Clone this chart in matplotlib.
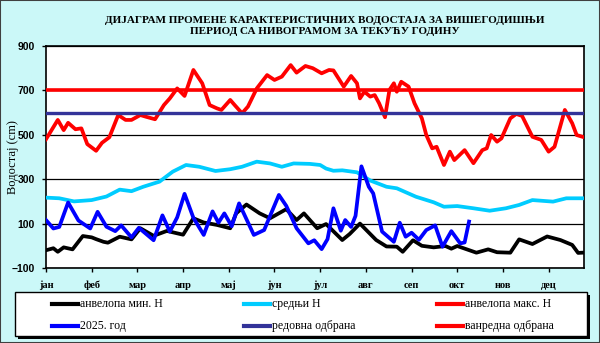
import numpy as np
import matplotlib
matplotlib.use("Agg")
import matplotlib.pyplot as plt
from matplotlib.patches import Rectangle
from matplotlib.lines import Line2D

# ------------------------------------------------------------
# Characteristic water levels (multi-year) with the current
# year's hydrograph. x = day of year (0 = 1 Jan), y = level in cm.
# ------------------------------------------------------------

MONTHS = ["јан", "феб", "мар", "апр", "мај", "јун",
          "јул", "авг", "сеп", "окт", "нов", "дец"]

MIN_DAYS = [0, 5, 8, 12, 18, 25, 31, 34, 39, 42, 50, 58, 64, 73, 82, 93,
            100, 107, 116, 125, 129, 136, 145, 152, 163, 170, 175, 184,
            190, 201, 206, 213, 224, 231, 238, 242, 249, 255, 263, 271,
            275, 279, 292, 300, 306, 315, 321, 330, 340, 349, 357, 361, 364]
MIN_H = [-20, -11, -27, -7, -16, 44, 38, 30, 18, 14, 41, 29, 79, 45, 67, 50,
         124, 105, 94, 79, 146, 186, 146, 124, 165, 116, 146, 79,
         98, 26, 53, 100, 26, -3, -4, -27, 25, 0, -7, -1,
         -13, -1, -31, -16, -29, -31, 29, 8, 42, 26, 4, -32, -31]

MEAN_DAYS = [0, 9, 19, 31, 41, 50, 58, 66, 77, 86, 95, 104, 115, 125, 133,
             143, 152, 160, 168, 179, 186, 190, 195, 201, 211, 220, 231,
             238, 251, 263, 270, 279, 290, 301, 312, 321, 330, 344, 353, 364]
MEAN_H = [217, 214, 200, 206, 222, 253, 246, 266, 289, 334, 364, 356, 337,
          345, 356, 379, 371, 356, 371, 369, 364, 348, 338, 340, 331, 294,
          266, 259, 221, 196, 176, 179, 169, 158, 169, 184, 206, 199, 214, 214]

MAX_DAYS = [0, 8, 12, 15, 20, 24, 28, 34, 38, 43, 49, 54, 58, 64, 68, 74,
            80, 84, 89, 94, 100, 106, 111, 116, 119, 125, 128, 133, 137,
            143, 150, 155, 160, 166, 170, 176, 181, 187, 192, 195, 202,
            207, 211, 213, 216, 220, 223, 226, 230, 233, 236, 238, 241,
            246, 250, 255, 258, 262, 265, 270, 274, 277, 284, 290, 296,
            299, 302, 306, 309, 315, 319, 323, 330, 336, 341, 345, 352,
            357, 360, 364]
MAX_H = [480, 567, 521, 554, 525, 529, 458, 428, 464, 489, 589, 567, 567,
         589, 581, 570, 634, 664, 709, 675, 792, 732, 634, 619, 612, 657,
         634, 597, 627, 709, 769, 747, 762, 814, 780, 810, 800, 777, 792,
         790, 717, 765, 732, 664, 694, 672, 679, 642, 579, 702, 732, 694,
         739, 717, 642, 574, 499, 439, 446, 364, 424, 386, 431, 372, 431,
         439, 499, 469, 484, 574, 594, 585, 491, 477, 424, 446, 612, 552,
         499, 491]

CUR_DAYS = [0, 5, 9, 15, 22, 30, 35, 41, 47, 51, 58, 63, 73, 79, 84, 89,
            94, 100, 107, 113, 117, 121, 126, 131, 141, 148, 158, 163, 170,
            178, 182, 187, 191, 195, 200, 203, 207, 210, 214, 219, 222,
            228, 236, 240, 244, 248, 253, 258, 264, 269, 275, 281, 284, 287]
CUR_H = [116, 78, 85, 195, 114, 78, 153, 86, 66, 92, 38, 81, 25, 137, 64,
         128, 234, 126, 49, 155, 104, 146, 88, 191, 49, 71, 229, 180, 79,
         11, 25, -15, 30, 169, 68, 116, 85, 135, 358, 266, 236, 64, 18,
         104, 41, 59, 27, 71, 92, -4, 66, 11, 15, 109]

REGULAR_DEFENCE = 600
EMERGENCY_DEFENCE = 700

TITLE = ("ДИЈАГРАМ ПРОМЕНЕ КАРАКТЕРИСТИЧНИХ ВОДОСТАЈА ЗА ВИШЕГОДИШЊИ\n"
         "ПЕРИОД СА НИВОГРАМОМ ЗА ТЕКУЋУ ГОДИНУ")

LABELS = ["анвелопа мин. Н", "средњи Н", "анвелопа макс. Н",
          "2025. год", "редовна одбрана", "ванредна одбрана"]
COLORS = ["#000000", "#00ccff", "#ff0000", "#0000ff", "#333399", "#ff0000"]

BG = "#cbf8f8"
W, H = 600, 343


def fx(px):
    return px / W


def fy(py):
    return 1 - py / H


def main():
    fig = plt.figure(figsize=(6.0, 3.43), dpi=100, facecolor=BG)
    ax = fig.add_axes([fx(46), fy(268), fx(584) - fx(46), fy(46) - fy(268)])
    ax.set_facecolor("white")

    series = [(MIN_DAYS, MIN_H), (MEAN_DAYS, MEAN_H),
              (MAX_DAYS, MAX_H), (CUR_DAYS, CUR_H)]
    for (d, v), c in zip(series, COLORS[:4]):
        ax.plot(d, v, color=c, lw=2.7, solid_joinstyle="round", zorder=3)
    ax.axhline(REGULAR_DEFENCE, color=COLORS[4], lw=2.4, zorder=4)
    ax.axhline(EMERGENCY_DEFENCE, color=COLORS[5], lw=2.6, zorder=4)

    ax.set_xlim(0, 365)
    ax.set_ylim(-100, 900)
    ax.set_yticks(np.arange(-100, 901, 200))
    ax.set_xticks(np.arange(0, 365, 31))
    ax.set_xticklabels(MONTHS, family="Liberation Serif", weight="bold",
                       fontsize=7.5)
    for t in ax.get_yticklabels():
        t.set_family("Liberation Sans")
        t.set_weight("bold")
        t.set_fontsize(7.5)
    ax.tick_params(axis="both", direction="out", length=3, width=1,
                   color="black")
    ax.tick_params(axis="x", pad=6)
    ax.tick_params(axis="y", pad=5)
    ax.grid(axis="y", color="black", lw=0.9, zorder=1)
    ax.set_axisbelow(True)
    for s in ax.spines.values():
        s.set_linewidth(1.2)

    # y label sits just left of the tick labels, as in the original
    fig.text(fx(13), fy(157), "Водостај (cm)", rotation=90, ha="center",
             va="center", family="Liberation Serif", fontsize=9)

    fig.text(fx(325), fy(26), TITLE, ha="center", va="center",
             family="Liberation Serif", weight="bold", fontsize=8,
             linespacing=1.15)

    # legend box with shadow
    fig.patches.append(Rectangle((fx(18), fy(339)), fx(572), 44 / H,
                                 transform=fig.transFigure, facecolor="black",
                                 edgecolor="none", zorder=1))
    fig.patches.append(Rectangle((fx(15), fy(336)), fx(572), 44 / H,
                                 transform=fig.transFigure, facecolor="white",
                                 edgecolor="black", lw=1, zorder=2))
    col_x = [52, 244, 437]
    row_y = [304, 326]
    for i, (lab, c) in enumerate(zip(LABELS, COLORS)):
        x0 = col_x[i % 3]
        y0 = row_y[i // 3]
        fig.lines.append(Line2D([fx(x0), fx(x0 + 26)], [fy(y0), fy(y0)],
                                transform=fig.transFigure, color=c, lw=3,
                                zorder=3))
        fig.text(fx(x0 + 28), fy(y0), lab, ha="left", va="center",
                 family="Liberation Serif", fontsize=8.5, zorder=3)

    # outer frame
    fig.patches.append(Rectangle((0, 0), 1, 1, transform=fig.transFigure,
                                 facecolor="none", edgecolor="#404040",
                                 lw=1.5, zorder=5))

    fig.savefig("out.png", dpi=100, facecolor=BG)
    plt.close(fig)


if __name__ == "__main__":
    main()
